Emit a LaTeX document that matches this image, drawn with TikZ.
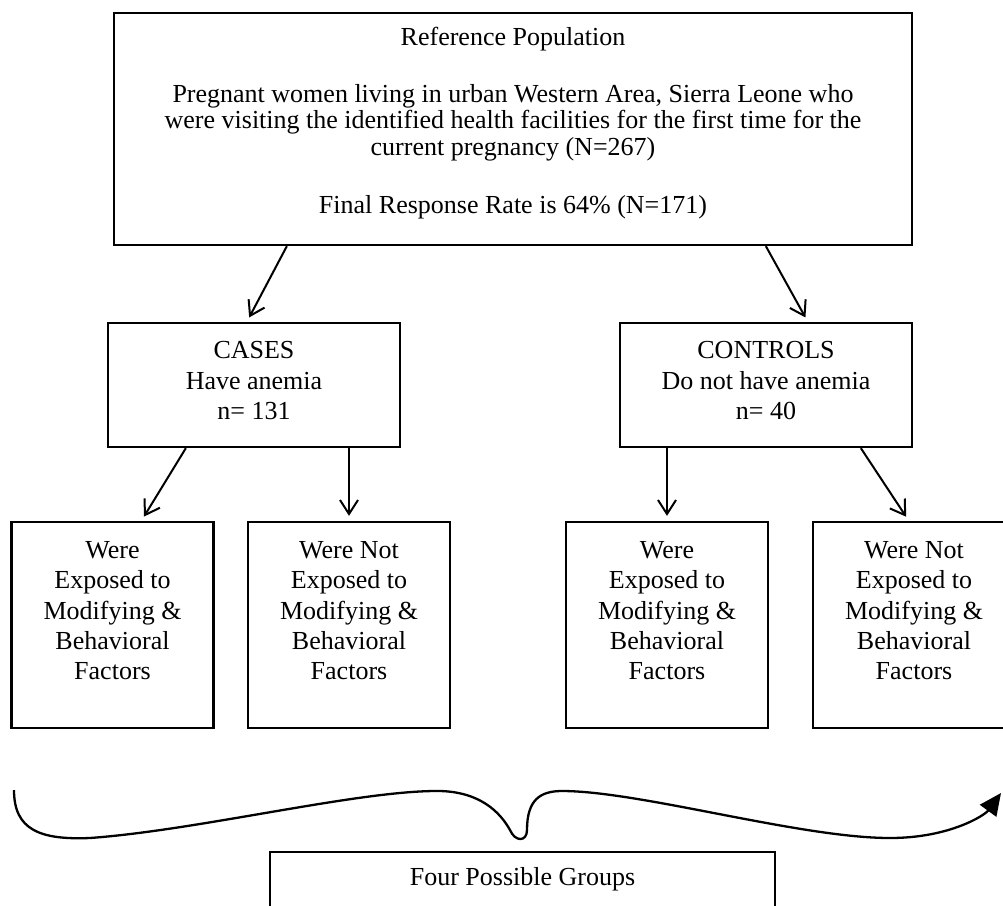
\documentclass[tikz,border=0pt]{standalone}
\usepackage{fontspec}
\setmainfont{Liberation Serif}
\usetikzlibrary{arrows.meta,calc}
\begin{document}
\begin{tikzpicture}[x=1pt,y=-1pt,
  box/.style={draw=black, line width=2.3pt, inner sep=0pt, align=center},
  conn/.style={line width=2pt, -{Straight Barb[length=14pt,width=18pt,line width=2pt]}, shorten >=5pt},
  bigtxt/.style={font=\fontsize{26}{30.4}\selectfont},
  toptxt/.style={font=\fontsize{26}{26.5}\selectfont},
  brace/.style={line width=2.3pt, -{Triangle[length=22pt,width=20pt]}}]
\path[use as bounding box, clip] (0,0) rectangle (1003,905);
\fill[white] (0,0) rectangle (1003,905);

\node[box, toptxt, minimum width=798pt, minimum height=232pt] (top) at (513,129)
 {\raisebox{5pt}[\height][\depth]{\begin{tabular}{@{}c@{}}
 Reference Population\\[30.5pt]
 Pregnant women living in urban Western Area, Sierra Leone who\\
 were visiting the identified health facilities for the first time for the\\
 current pregnancy (N=267)\\[31.5pt]
 Final Response Rate is 64\% (N=171)
 \end{tabular}}};

\node[box, bigtxt, minimum width=292pt, minimum height=124pt] (cases) at (254,385)
 {\raisebox{2pt}[\height][\depth]{\begin{tabular}{@{}c@{}}CASES\\Have anemia\\n= 131\end{tabular}}};
\node[box, bigtxt, minimum width=292pt, minimum height=124pt] (controls) at (766,385)
 {\raisebox{2pt}[\height][\depth]{\begin{tabular}{@{}c@{}}CONTROLS\\Do not have anemia\\n= 40\end{tabular}}};

\node[box, bigtxt, minimum width=202pt, minimum height=206pt] (b1) at (112.5,625)
 {\raisebox{12pt}[\height][\depth]{\begin{tabular}{@{}c@{}}Were\\Exposed to\\Modifying \&\\Behavioral\\Factors\end{tabular}}};
\node[box, bigtxt, minimum width=202pt, minimum height=206pt] (b2) at (349,625)
 {\raisebox{12pt}[\height][\depth]{\begin{tabular}{@{}c@{}}Were Not\\Exposed to\\Modifying \&\\Behavioral\\Factors\end{tabular}}};
\node[box, bigtxt, minimum width=202pt, minimum height=206pt] (b3) at (667,625)
 {\raisebox{12pt}[\height][\depth]{\begin{tabular}{@{}c@{}}Were\\Exposed to\\Modifying \&\\Behavioral\\Factors\end{tabular}}};
\node[box, bigtxt, minimum width=202pt, minimum height=206pt] (b4) at (914,625)
 {\raisebox{12pt}[\height][\depth]{\begin{tabular}{@{}c@{}}Were Not\\Exposed to\\Modifying \&\\Behavioral\\Factors\end{tabular}}};

\node[box, font=\fontsize{26}{30}\selectfont, minimum width=505pt, text height=33pt, text depth=60pt, anchor=base] (groups) at (522.5,885) {Four Possible Groups};

\draw[conn] ([xshift=174pt]top.south west) -- ([xshift=140pt]cases.north west);
\draw[conn] ([xshift=653pt]top.south west) -- ([xshift=189pt]controls.north west);
\draw[conn] ([xshift=79pt]cases.south west) -- ([xshift=131pt]b1.north west);
\draw[conn] (b2.north |- cases.south) -- (b2.north);
\draw[conn] (b3.north |- controls.south) -- (b3.north);
\draw[conn] ([xshift=242pt]controls.south west) -- ([xshift=97pt]b4.north west);

\coordinate (bstart) at (14,790);
\coordinate (bend) at (1001,793);
\draw[brace] (bstart) .. controls (14,830) and (40,840) .. (90,838)
 .. controls (200,830) and (360,790) .. (440,791)
 .. controls (480,792) and (500,812) .. (510,830)
 .. controls (515,842) and (527,842) .. (527,830)
 .. controls (527,800) and (540,791) .. (562,791)
 .. controls (640,791) and (800,838) .. (890,838)
 .. controls (950,838) and (985,815) .. (bend);
\end{tikzpicture}
\end{document}
